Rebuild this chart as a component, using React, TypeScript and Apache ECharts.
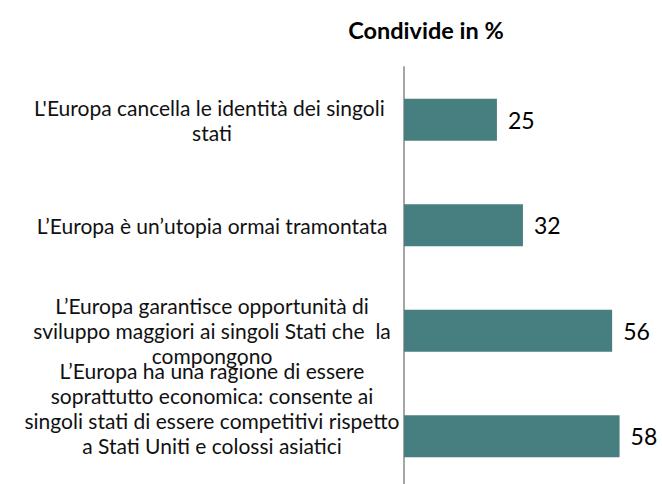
import React, { useEffect, useRef } from "react";
import * as echarts from "echarts";

const categories = [
  "L'Europa cancella le identità dei singoli \nstati",
  "L’Europa è un’utopia ormai tramontata",
  "L’Europa garantisce opportunità di\nsviluppo maggiori ai singoli Stati che  la\ncompongono",
  "L’Europa ha una ragione di essere\nsoprattutto economica: consente ai\nsingoli stati di essere competitivi rispetto\na Stati Uniti e colossi asiatici",
];
const values = [25, 32, 56, 58];
const title = "Condivide in %";

export default function App() {
  const ref = useRef<HTMLDivElement>(null);
  useEffect(() => {
    if (!ref.current) return;
    const chart = echarts.init(ref.current, null, { renderer: "svg" });
    const font = "Lato";
    chart.setOption({
      animation: false,
      title: {
        text: title,
        left: 421,
        top: 13,
        textAlign: "center",
        textStyle: { fontFamily: font, fontSize: 23.5, fontWeight: "bold", color: "#000" },
      },
      grid: {
        left: 404,
        top: 67,
        width: 223,
        height: 422,
        containLabel: false,
        outerBoundsMode: "none",
      },
      xAxis: { type: "value", min: 0, max: 60, show: false },
      yAxis: {
        type: "category",
        inverse: true,
        data: categories,
        axisLine: { show: true, lineStyle: { color: "#a6a6a6", width: 2 } },
        axisTick: { show: false },
        axisLabel: {
          interval: 0,
          hideOverlap: false,
          align: "center",
          margin: 192,
          fontFamily: font,
          fontSize: 21,
          lineHeight: 25,
          color: "#111",
          formatter: (v: string, i: number) => (i === 3 ? v + "\n{s| }" : v),
          rich: { s: { fontSize: 4, lineHeight: 57 } },
        },
      },
      series: [
        {
          type: "bar",
          data: values,
          barWidth: 42,
          itemStyle: { color: "#477e80" },
          label: {
            show: true,
            position: "right",
            distance: 11,
            fontFamily: font,
            fontSize: 23,
            color: "#000",
          },
        },
      ],
    });
    return () => chart.dispose();
  }, []);
  return (
    <div
      ref={ref}
      style={{ position: "fixed", left: 0, top: 0, width: 662, height: 484, background: "#fff" }}
    />
  );
}
